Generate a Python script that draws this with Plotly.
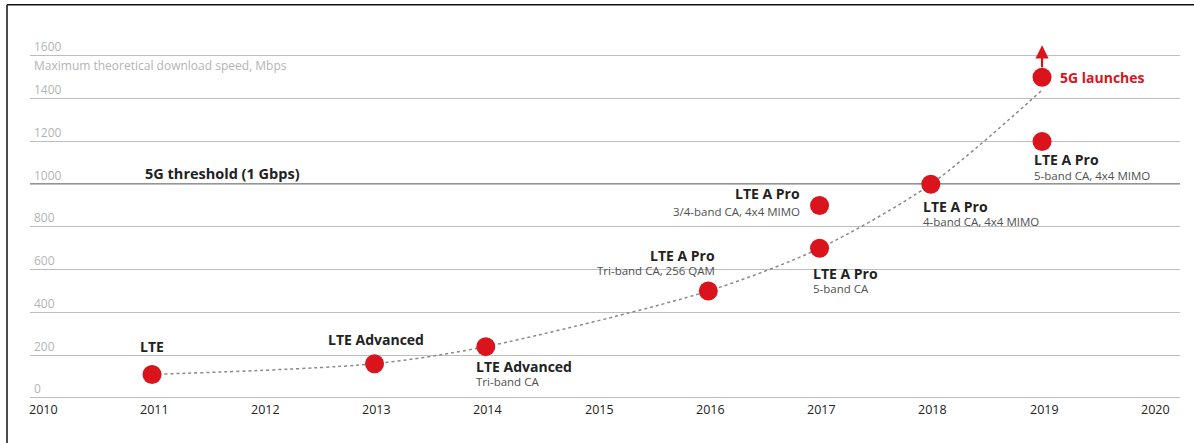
import plotly.graph_objects as go

# Milestones: year, max theoretical download speed (Mbps)
years = [2011, 2013, 2014, 2016, 2017, 2017, 2018, 2019, 2019]
speeds = [110, 160, 240, 500, 700, 900, 1000, 1200, 1500]
titles = ["LTE", "LTE Advanced", "LTE Advanced", "LTE A Pro", "LTE A Pro",
          "LTE A Pro", "LTE A Pro", "LTE A Pro", "5G launches"]
subtitles = ["", "", "Tri-band CA", "Tri-band CA, 256 QAM", "5-band CA",
             "3/4-band CA, 4x4 MIMO", "4-band CA, 4x4 MIMO", "5-band CA, 4x4 MIMO", ""]

# Trend curve through the milestones
trend_years = [2011, 2013, 2014, 2016, 2017, 2018, 2019]
trend_speeds = [110, 160, 240, 500, 700, 1000, 1440]

x_ticks = list(range(2010, 2021))
y_ticks = list(range(0, 1601, 200))
threshold = 1000

RED = "#d9141c"
DARK = "#222222"
SUB = "#505050"
GREY = "#b4b4b4"
FONT = "Open Sans"

# label placement per milestone: (xanchor, xshift, title yshift, subtitle yshift)
placement = [
    ("center", 0, 28, None),
    ("center", 1, 24, None),
    ("left", -12, -20, -35),
    ("right", 9, 36, 21),
    ("left", -9, -25, -40),
    ("right", -18, 12, -6),
    ("left", -10, -22, -37),
    ("left", -10, -18, -34),
    ("left", 16, 0, None),
]

fig = go.Figure()

fig.add_trace(go.Scatter(
    x=trend_years, y=trend_speeds, mode="lines",
    line=dict(color="#8a8a8a", width=1.5, dash="dot", shape="spline", smoothing=0.8),
    hoverinfo="skip", showlegend=False,
))

fig.add_trace(go.Scatter(
    x=years, y=speeds, mode="markers",
    marker=dict(color=RED, size=19, line=dict(width=0)),
    showlegend=False,
))

annotations = []
for yr, sp, t, s, (anchor, xs, ty, sy) in zip(years, speeds, titles, subtitles, placement):
    is5g = t.startswith("5G")
    annotations.append(dict(
        x=yr, y=sp, text=f"<b>{t}</b>", showarrow=False,
        xanchor=anchor, yanchor="middle", xshift=xs, yshift=ty,
        font=dict(family=FONT, size=14, color=RED if is5g else DARK),
    ))
    if s:
        annotations.append(dict(
            x=yr, y=sp, text=s, showarrow=False,
            xanchor=anchor, yanchor="middle", xshift=xs, yshift=sy,
            font=dict(family=FONT, size=11.5, color=SUB),
        ))

# arrow above the 5G point
annotations.append(dict(
    x=2019, y=1650, ax=2019, ay=1540, xref="x", yref="y", axref="x", ayref="y",
    text="", showarrow=True, arrowhead=2, arrowsize=1.2, arrowwidth=2.2, arrowcolor=RED,
))

# x tick labels
for yr in x_ticks:
    annotations.append(dict(
        x=yr, y=-56, text=str(yr), showarrow=False, xanchor="center", yanchor="middle",
        xshift=2 if yr != 2010 else 3,
        font=dict(family=FONT, size=12.5, color=DARK),
    ))

# y tick labels sit above their gridlines
for v in y_ticks:
    annotations.append(dict(
        x=2009.92, y=v, text=str(v), showarrow=False, xanchor="left", yanchor="middle",
        yshift=9, font=dict(family=FONT, size=12, color=GREY),
    ))

annotations.append(dict(
    x=2009.92, y=1553, text="Maximum theoretical download speed, Mbps", showarrow=False,
    xanchor="left", yanchor="middle", font=dict(family=FONT, size=12, color=GREY),
))
annotations.append(dict(
    x=2010.92, y=threshold, text="<b>5G threshold (1 Gbps)</b>", showarrow=False,
    xanchor="left", yanchor="middle", yshift=11,
    font=dict(family=FONT, size=14.5, color=DARK),
))

shapes = [
    dict(type="line", xref="paper", yref="y", x0=0, x1=1, y0=threshold, y1=threshold,
         line=dict(color="#2a2a2a", width=1.5), layer="below"),
    # frame lines on the left and top
    dict(type="line", xref="paper", yref="paper", x0=-0.02, x1=-0.02, y0=-0.04, y1=1.037,
         line=dict(color="#111111", width=1.5)),
    dict(type="line", xref="paper", yref="paper", x0=-0.02, x1=1.02, y0=1.037, y1=1.037,
         line=dict(color="#111111", width=1.5)),
]

fig.update_layout(
    width=1194, height=443,
    margin=dict(l=30, r=14, t=20, b=13),
    paper_bgcolor="white", plot_bgcolor="white",
    xaxis=dict(range=[2009.903, 2020.24], showgrid=False, zeroline=False,
               showticklabels=False, fixedrange=True),
    yaxis=dict(range=[-150, 1768], tickvals=y_ticks, showgrid=True,
               gridcolor="#bdbdbd", gridwidth=1, zeroline=False,
               showticklabels=False, fixedrange=True),
    annotations=annotations, shapes=shapes,
    font=dict(family=FONT),
)

fig.write_html("out.html")
